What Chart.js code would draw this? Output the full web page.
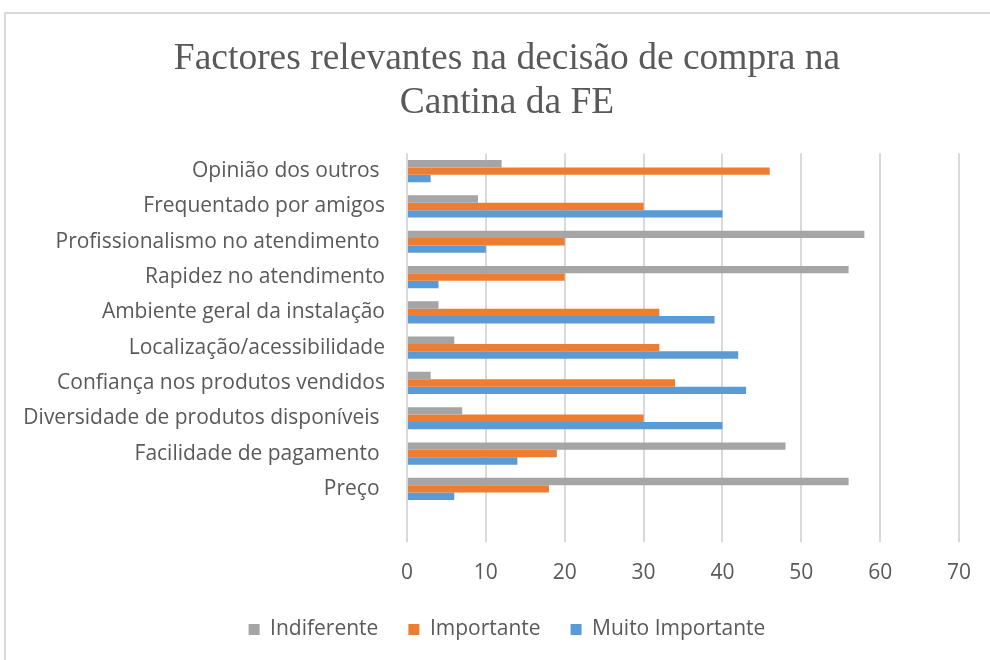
<!DOCTYPE html>
<html>
<head>
<meta charset="utf-8">
<script src="https://cdn.jsdelivr.net/npm/chart.js@4.4.1/dist/chart.umd.min.js"></script>
<style>
  html, body { margin: 0; padding: 0; background: #fff; overflow: hidden; }
  #frame { position: absolute; left: 4px; top: 12px; width: 1000px; height: 700px; border: 2px solid #d9d9d9; box-sizing: border-box; }
  #wrap { position: absolute; left: 0; top: 0; width: 990px; height: 660px; }
</style>
</head>
<body>
<div id="frame"></div>
<div id="wrap"><canvas id="chart-bar" width="990" height="660"></canvas></div>
<script>
// categories, top to bottom (last one is the empty row under Preço)
var categories = [
  "Opinião dos outros ",
  "Frequentado por amigos",
  "Profissionalismo no atendimento ",
  "Rapidez no atendimento",
  "Ambiente geral da instalação",
  "Localização/acessibilidade",
  "Confiança nos produtos vendidos",
  "Diversidade de produtos disponíveis ",
  "Facilidade de pagamento ",
  "Preço ",
  ""
];

var indiferente     = [12, 9, 58, 56, 4, 6, 3, 7, 48, 56, null];
var importante      = [46, 30, 20, 20, 32, 32, 34, 30, 19, 18, null];
var muitoImportante = [3, 40, 10, 4, 39, 42, 43, 40, 14, 6, null];

var xTicks = [0, 10, 20, 30, 40, 50, 60, 70];

var ctx = document.getElementById("chart-bar").getContext("2d");

var textColor = "#595959";
var labelFont = { family: "Open Sans", size: 21 };

// long category labels reach past the padded y scale box, so open its left edge;
// the legend sits a bit higher than its padding would put it
var tweakLayout = {
  id: "tweakLayout",
  afterLayout: function (chart) {
    chart.scales.y.left = 0;
    chart.legend.top -= 16;
    chart.legend.bottom -= 16;
  },
};

new Chart(ctx, {
  type: "bar",
  data: {
    labels: categories,
    datasets: [
      {
        label: "Indiferente",
        data: indiferente,
        backgroundColor: "#a5a5a5",
        borderWidth: 0,
      },
      {
        label: "Importante",
        data: importante,
        backgroundColor: "#ed7d31",
        borderWidth: 0,
      },
      {
        label: "Muito Importante",
        data: muitoImportante,
        backgroundColor: "#5b9bd5",
        borderWidth: 0,
      },
    ],
  },
  plugins: [tweakLayout],
  options: {
    indexAxis: "y",
    responsive: false,
    animation: false,
    layout: {
      padding: { left: 52, right: 28, top: 0, bottom: -6 },
    },
    datasets: {
      bar: {
        categoryPercentage: 0.63,
        barPercentage: 1.0,
      },
    },
    plugins: {
      title: {
        display: true,
        text: ["Factores relevantes na decisão de compra na", "Cantina da FE"],
        color: textColor,
        font: { family: "Liberation Serif", size: 37.5, weight: "normal", lineHeight: 1.18 },
        padding: { top: 37, bottom: 28 },
      },
      legend: {
        display: true,
        position: "bottom",
        labels: {
          color: textColor,
          font: labelFont,
          boxWidth: 11,
          boxHeight: 11,
          padding: 30,
        },
      },
      tooltip: { enabled: false },
    },
    scales: {
      x: {
        min: 0,
        max: 70,
        afterBuildTicks: function (scale) {
          scale.ticks = xTicks.map(function (v) { return { value: v }; });
        },
        grid: {
          display: true,
          color: "#d9d9d9",
          lineWidth: 2,
          drawTicks: false,
        },
        border: { display: false },
        ticks: {
          color: textColor,
          font: labelFont,
          padding: 19,
        },
      },
      y: {
        afterFit: function (scale) {
          scale.width = 355;
        },
        grid: { display: false, drawTicks: false },
        border: { display: false },
        ticks: {
          color: textColor,
          font: labelFont,
          padding: 22,
          autoSkip: false,
        },
      },
    },
  },
});
</script>
</body>
</html>
